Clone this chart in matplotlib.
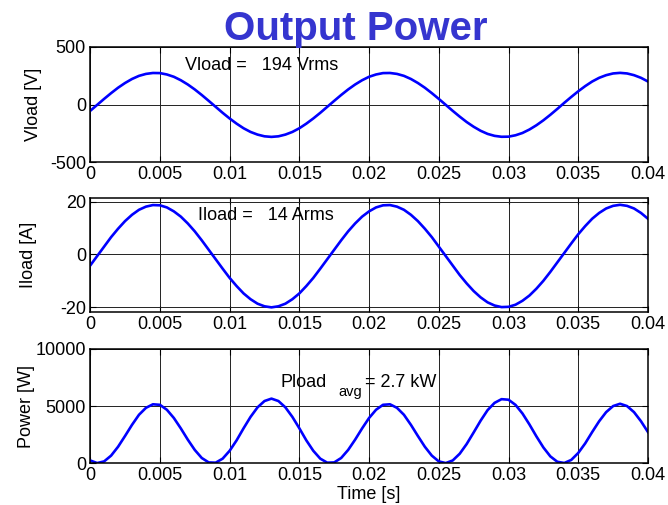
import matplotlib
matplotlib.use('Agg')
import matplotlib.pyplot as plt
import numpy as np

plt.rcParams.update({'font.family': ['Liberation Sans', 'DejaVu Sans'],
                     'axes.unicode_minus': False})

# sampled output waveforms, 0.5 ms step over 40 ms
t_step = 0.0005
vload = [-55, -3, 49, 99, 146, 187, 222, 249, 266, 274,
         273, 261, 241, 211, 174, 131, 83, 32, -20, -72,
         -121, -166, -206, -238, -261, -276, -281, -276, -261, -238,
         -206, -166, -121, -72, -20, 32, 83, 131, 174, 211,
         241, 261, 273, 274, 266, 249, 222, 187, 146, 99,
         49, -3, -55, -105, -152, -193, -228, -255, -272, -280,
         -279, -267, -247, -217, -180, -137, -89, -38, 15, 66,
         115, 160, 200, 232, 255, 270, 275, 270, 255, 232, 200]
iload = [-4.2, -0.6, 3.0, 6.6, 9.8, 12.7, 15.1, 17.0, 18.2, 18.8,
         18.7, 17.9, 16.4, 14.4, 11.8, 8.8, 5.4, 1.8, -1.8, -5.4,
         -8.9, -12.0, -14.8, -17.0, -18.7, -19.7, -20.1, -19.7, -18.7, -17.0,
         -14.8, -12.0, -8.9, -5.4, -1.8, 1.8, 5.4, 8.8, 11.8, 14.4,
         16.4, 17.9, 18.7, 18.8, 18.2, 17.0, 15.1, 12.7, 9.8, 6.6,
         3.0, -0.6, -4.2, -7.8, -11.0, -13.9, -16.3, -18.2, -19.4, -20.0,
         -19.9, -19.1, -17.6, -15.6, -13.0, -10.0, -6.6, -3.0, 0.6, 4.2,
         7.7, 10.8, 13.6, 15.8, 17.5, 18.5, 18.9, 18.5, 17.5, 15.8, 13.6]
pload = [231, 2, 147, 653, 1431, 2375, 3352, 4233, 4841, 5151,
         5105, 4672, 3952, 3038, 2053, 1153, 448, 58, 36, 389,
         1077, 1992, 3049, 4046, 4881, 5437, 5648, 5437, 4881, 4046,
         3049, 1992, 1077, 389, 36, 58, 448, 1153, 2053, 3038,
         3952, 4672, 5105, 5151, 4841, 4233, 3352, 2375, 1431, 653,
         147, 2, 231, 819, 1672, 2683, 3716, 4641, 5277, 5600,
         5552, 5100, 4347, 3385, 2340, 1370, 587, 114, 9, 277,
         886, 1728, 2720, 3666, 4463, 4995, 5198, 4995, 4463, 3666, 2720]
t = np.arange(len(vload)) * t_step

vrms, irms, pavg = 194, 14, 2.7
xticks = [0, 0.005, 0.01, 0.015, 0.02, 0.025, 0.03, 0.035, 0.04]
xticklabels = ['0', '0.005', '0.01', '0.015', '0.02', '0.025', '0.03', '0.035', '0.04']

FS = 13
fig = plt.figure(figsize=(6.68, 5.05), dpi=100)
ax1 = fig.add_axes([0.135, 0.679, 0.835, 0.228])
ax2 = fig.add_axes([0.135, 0.382, 0.835, 0.226])
ax3 = fig.add_axes([0.135, 0.083, 0.835, 0.226])

panels = [(ax1, vload, 'Vload [V]', (-500, 500), [-500, 0, 500], -0.086),
          (ax2, iload, 'Iload [A]', (-21.9, 21.5), [-20, 0, 20], -0.095),
          (ax3, pload, 'Power [W]', (0, 10000), [0, 5000, 10000], -0.099)]
for ax, y, lab, ylim, yt, lx in panels:
    ax.plot(t, y, color='#0000FF', lw=1.9)
    ax.set_xlim(0, 0.04); ax.set_ylim(*ylim)
    ax.set_xticks(xticks); ax.set_xticklabels(xticklabels)
    ax.set_yticks(yt)
    ax.tick_params(direction='in', top=True, right=True, length=4,
                   labelsize=FS, pad=3, width=0.8)
    ax.grid(True, color='#222222', lw=0.7)
    ax.set_axisbelow(True)
    for s in ax.spines.values():
        s.set_linewidth(1.1)
    ax.set_ylabel(lab, fontsize=FS)
    ax.yaxis.set_label_coords(lx, 0.5)

ax1.text(0.0068, 343, f'Vload =   {vrms} Vrms', fontsize=FS, va='center')
ax2.text(0.0077, 14.9, f'Iload =   {irms} Arms', fontsize=FS, va='center')
# Pload_avg label, subscript drawn as its own smaller text
ax3.text(0.01362, 7040, 'Pload', fontsize=FS, va='center')
ax3.text(0.0178, 6250, 'avg', fontsize=10.5, va='center')
ax3.text(0.01971, 7040, f'= {pavg} kW', fontsize=FS, va='center')
ax3.set_xlabel('Time [s]', fontsize=FS, labelpad=1)

fig.text(0.532, 0.921, 'Output Power', fontsize=29, fontweight='bold',
         color='#3535CF', ha='center', va='baseline')

plt.savefig('out.png', dpi=100)
plt.close()
